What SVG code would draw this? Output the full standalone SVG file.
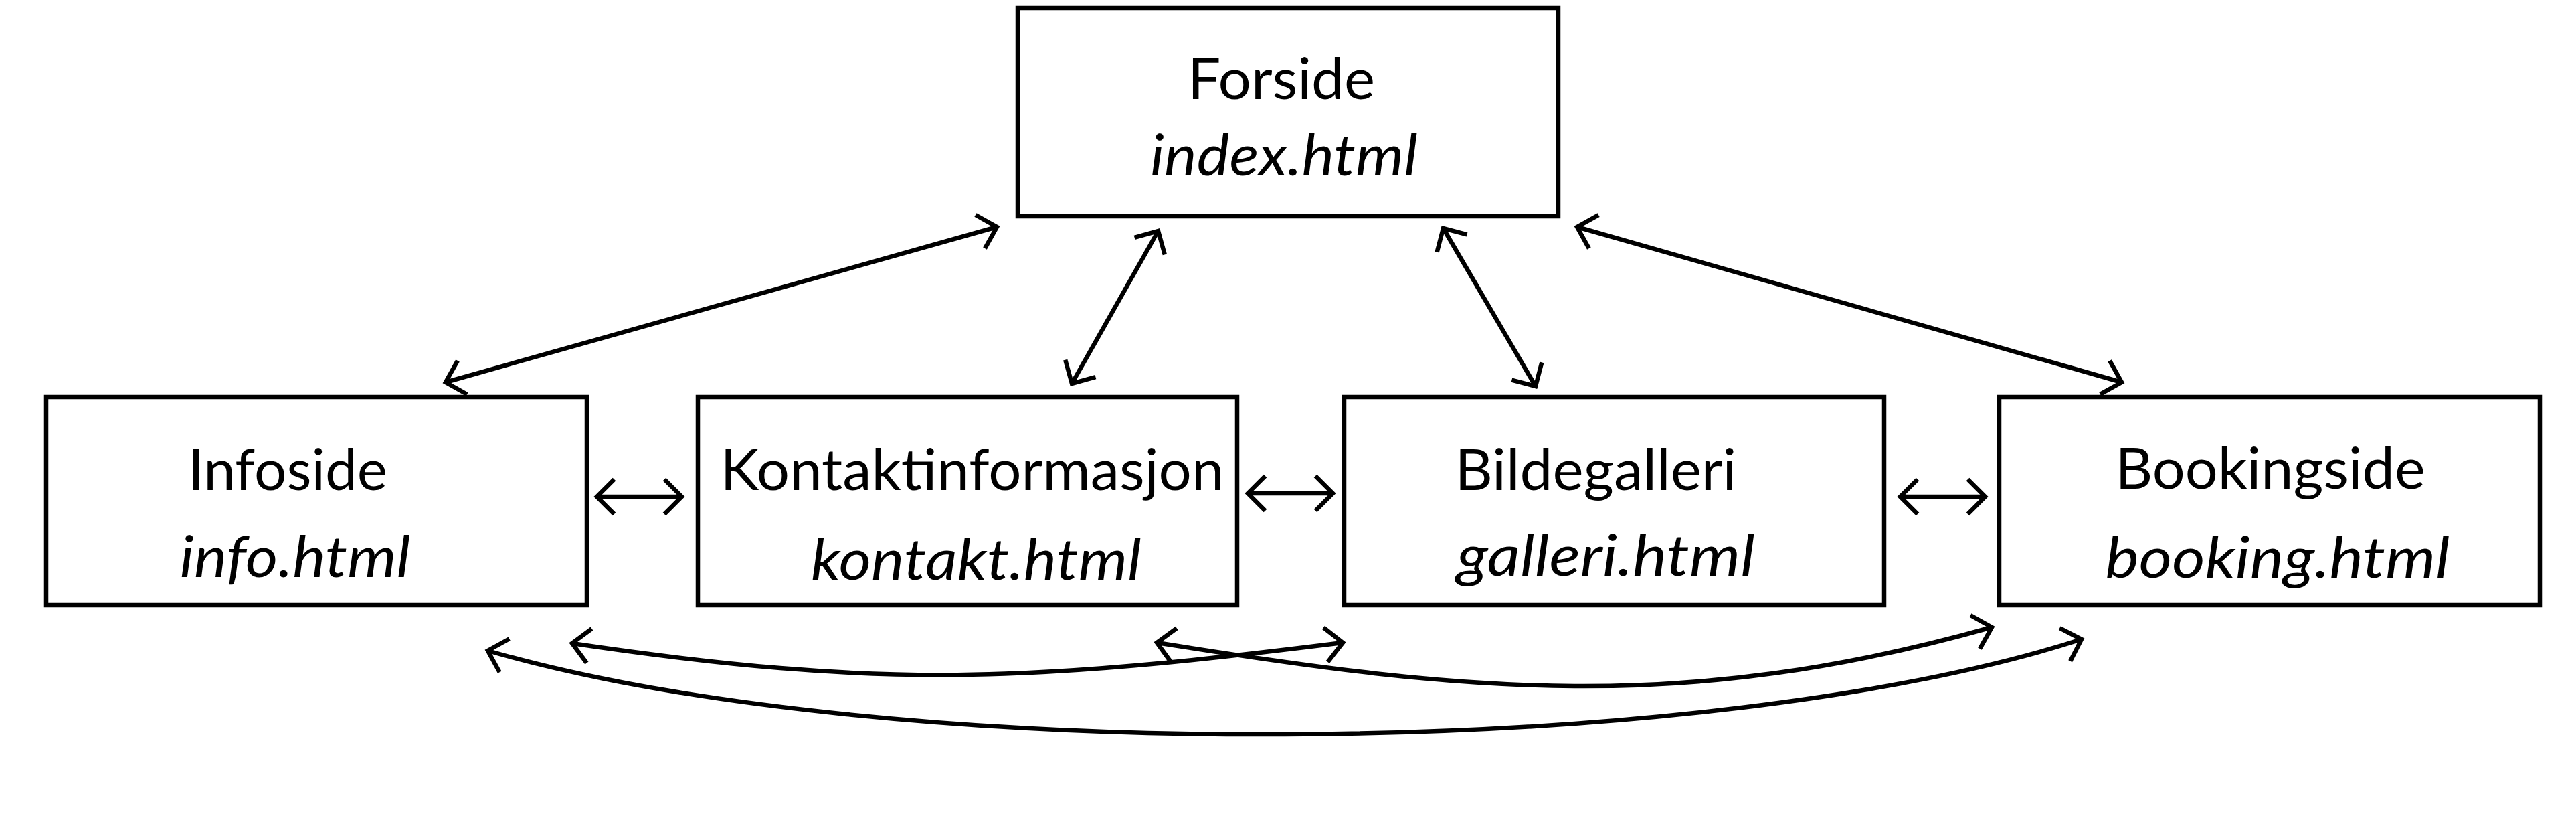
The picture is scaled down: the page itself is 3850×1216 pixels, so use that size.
<svg xmlns="http://www.w3.org/2000/svg" width="3850" height="1216" viewBox="0 0 3850 1216">
<style>
.box{fill:#fff;stroke:#000;stroke-width:6.5}
.t{font-family:Lato,"Liberation Sans",sans-serif;font-size:85px;fill:#000;text-anchor:middle}
.i{font-style:italic}
.c{fill:none;stroke:#000;stroke-width:6.5;marker-start:url(#ah);marker-end:url(#ah)}
</style>
<defs>
<marker id="ah" markerUnits="userSpaceOnUse" viewBox="-40 -35 50 70" markerWidth="50" markerHeight="70" refX="0" refY="0" orient="auto-start-reverse">
<path d="M -26 -26 L 0 0 L -26 26" fill="none" stroke="#000" stroke-width="6.5" stroke-linejoin="miter"/>
</marker>
</defs>
<rect width="3850" height="1216" fill="#fff"/>
<g id="forside">
<rect class="box" x="1521" y="12" width="808" height="311"/>
<text class="t" x="1915" y="148" textLength="280" lengthAdjust="spacingAndGlyphs">Forside</text>
<text class="t i" x="1919" y="262" textLength="400" lengthAdjust="spacingAndGlyphs">index.html</text>
</g>
<g id="infoside">
<rect class="box" x="69" y="593" width="808" height="311"/>
<text class="t" x="430" y="732" textLength="298" lengthAdjust="spacingAndGlyphs">Infoside</text>
<text class="t i" x="441" y="862" textLength="345" lengthAdjust="spacingAndGlyphs">info.html</text>
</g>
<g id="kontakt">
<rect class="box" x="1043" y="593" width="806" height="311"/>
<text class="t" x="1453" y="732" textLength="753" lengthAdjust="spacingAndGlyphs">Kontaktinformasjon</text>
<text class="t i" x="1459" y="866" textLength="494" lengthAdjust="spacingAndGlyphs">kontakt.html</text>
</g>
<g id="bildegalleri">
<rect class="box" x="2009" y="593" width="807" height="311"/>
<text class="t" x="2385" y="732" textLength="421" lengthAdjust="spacingAndGlyphs">Bildegalleri</text>
<text class="t i" x="2400" y="860" textLength="446" lengthAdjust="spacingAndGlyphs">galleri.html</text>
</g>
<g id="bookingside">
<rect class="box" x="2988" y="593" width="808" height="311"/>
<text class="t" x="3393" y="730" textLength="463" lengthAdjust="spacingAndGlyphs">Bookingside</text>
<text class="t i" x="3404" y="863" textLength="515" lengthAdjust="spacingAndGlyphs">booking.html</text>
</g>
<g id="connectors">
<line class="c" x1="666" y1="571" x2="1490" y2="339"/>
<line class="c" x1="1602" y1="573" x2="1731" y2="345"/>
<line class="c" x1="2157" y1="341" x2="2295" y2="577"/>
<line class="c" x1="2357" y1="339" x2="3171" y2="571"/>
<line class="c" x1="892" y1="742" x2="1019" y2="742"/>
<line class="c" x1="1865" y1="737" x2="1992" y2="737"/>
<line class="c" x1="2840" y1="742" x2="2967" y2="742"/>
<path class="c" d="M 855 961 C 1321 1030 1541 1018 2007 960"/>
<path class="c" d="M 1729 960 C 2192 1034 2514 1067 2977 937"/>
<path class="c" d="M 729 972 C 1312 1141 2528 1142 3111 955"/>
</g>
</svg>
